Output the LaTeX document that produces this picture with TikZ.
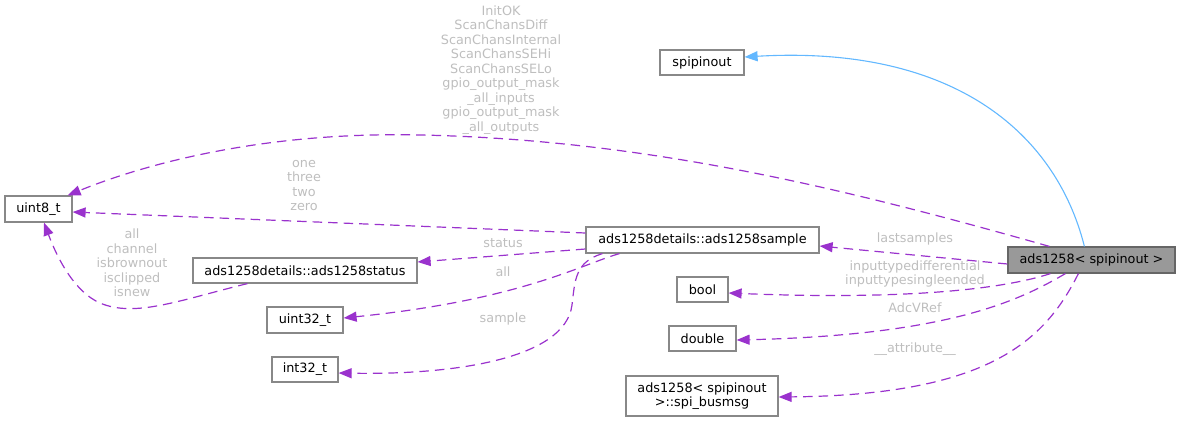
\documentclass[tikz,border=0pt]{standalone}
\usepackage{fontspec}
\setmainfont{DejaVu Sans}
\usetikzlibrary{arrows.meta}
\definecolor{edgep}{HTML}{9A32CD}
\definecolor{edgeb}{HTML}{63B8FF}
\definecolor{lbl}{HTML}{BEBEBE}
\definecolor{bord}{HTML}{888888}
\definecolor{mainfill}{HTML}{999999}
\tikzset{
  box/.style={draw=bord, line width=1.2pt, fill=white, inner sep=0pt, align=center,
    font=\fontsize{12.8}{14.5}\selectfont, text=black},
  lab/.style={text=lbl, inner sep=0pt, align=center, font=\fontsize{12.8}{14.5}\selectfont},
  dep/.style={draw=edgep, line width=1.2pt, dash pattern=on 9.5pt off 6pt,
    -{Triangle[length=13pt,width=10pt]}},
  inh/.style={draw=edgeb, line width=1.1pt, -{Triangle[length=13pt,width=10pt]}}
}
\begin{document}
\begin{tikzpicture}[x=1pt,y=-1pt]
\useasboundingbox (0,0) rectangle (1180,421);
% nodes
\node[box, minimum width=84pt, minimum height=25pt] (spi) at (702,62.5) {spipinout};
\node[box, minimum width=67pt, minimum height=26pt] (u8) at (38.5,209) {uint8\_t};
\node[box, minimum width=233pt, minimum height=26pt] (sample) at (702.5,240) {ads1258details::ads1258sample};
\node[box, minimum width=224pt, minimum height=25pt] (status) at (305,270.5) {ads1258details::ads1258status};
\node[box, minimum width=76pt, minimum height=26pt] (u32) at (305,320) {uint32\_t};
\node[box, minimum width=66pt, minimum height=25pt] (i32) at (305,369.5) {int32\_t};
\node[box, fill=mainfill, draw=black!60, minimum width=167pt, minimum height=26pt] (main) at (1091.5,260) {ads1258< spipinout >};
\node[box, minimum width=51pt, minimum height=25pt] (bool) at (702.5,289.5) {bool};
\node[box, minimum width=67pt, minimum height=25pt] (dbl) at (702.5,338.5) {double};
\node[box, minimum width=152pt, minimum height=40pt] (bus) at (702,396) {ads1258< spipinout\\>::spi\_busmsg};

% edges
\draw[inh] ([xshift=77pt]main.north west) .. controls (1055,130) and (950,45) .. ([yshift=5.5pt]spi.east);
\draw[dep] ([xshift=42pt]main.north west) .. controls (850,190) and (650,140) .. (421,135)
   .. controls (250,131) and (130,170) .. ([xshift=-5pt]u8.north east);
\draw[dep] ([yshift=7pt]sample.west) -- ([yshift=-3pt]u8.east);
\draw[dep] ([yshift=-9pt]sample.west) -- ([yshift=8.5pt]status.east);
\draw[dep] ([xshift=34pt]sample.south west) .. controls (580,265) and (520,300) .. ([yshift=2pt]u32.east);
\draw[dep] ([xshift=17pt]sample.south west) .. controls (575,262) and (575,280) .. (572,305)
   .. controls (565,360) and (450,375) .. ([yshift=-3.5pt]i32.east);
\draw[dep] ([xshift=55pt]status.south west) .. controls (180,300) and (135,318) .. (100,303)
   .. controls (75,292) and (58,260) .. ([xshift=5.5pt]u8.south);
\draw[dep] ([yshift=-4pt]main.west) -- ([yshift=-6pt]sample.east);
\draw[dep] ([xshift=43pt]main.south west) .. controls (1000,290) and (900,300) .. ([yshift=-3.5pt]bool.east);
\draw[dep] ([xshift=58pt]main.south west) .. controls (1020,300) and (950,335) .. ([yshift=-1.5pt]dbl.east);
\draw[dep] ([xshift=71pt]main.south west) .. controls (1045,340) and (990,395) .. ([yshift=-1pt]bus.east);

% labels
\node[lab] (l1) at (501,70) {InitOK\\ScanChansDiff\\ScanChansInternal\\ScanChansSEHi\\ScanChansSELo\\gpio\_output\_mask\\\_all\_inputs\\gpio\_output\_mask\\\_all\_outputs};
\node[lab] (l2) at (304,185.5) {one\\three\\two\\zero};
\node[lab] (l3) at (503,243) {status};
\node[lab] (l4) at (503,272) {all};
\node[lab] (l5) at (503,319) {sample};
\node[lab] (l6) at (132,263) {all\\channel\\isbrownout\\isclipped\\isnew};
\node[lab] (l7) at (915,239) {lastsamples};
\node[lab] (l8) at (915,274) {inputtypedifferential\\inputtypesingleended};
\node[lab] (l9) at (915,308) {AdcVRef};
\node[lab] (l10) at (915,349) {\_\_attribute\_\_};
\end{tikzpicture}
\end{document}
